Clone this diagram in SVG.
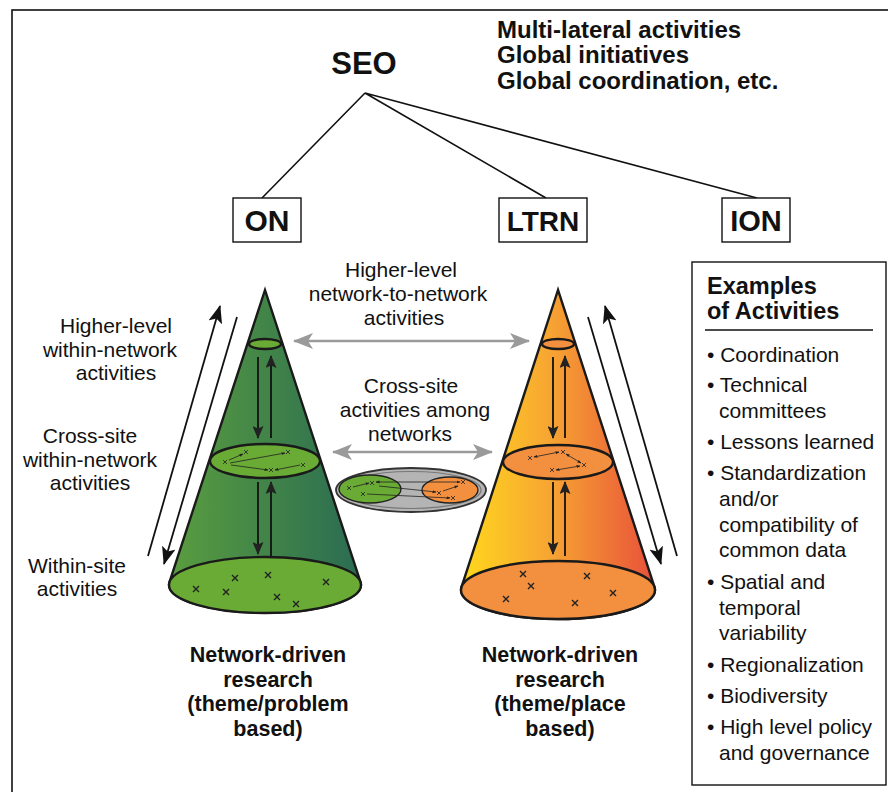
<svg xmlns="http://www.w3.org/2000/svg" width="888" height="792" viewBox="0 0 888 792">
<style>
.t{font-family:"Liberation Sans",Arial,sans-serif;font-size:21px;fill:#111}
.b{font-family:"Liberation Sans",Arial,sans-serif;font-weight:bold;fill:#111}
.c{text-anchor:middle}
.ln{stroke:#111;stroke-width:1.6;fill:none}
.ol{stroke:#1a1a1a;stroke-width:2.4}
.ga{stroke:#9a9a9a;stroke-width:2.5;fill:none}
.ar{stroke:#111;stroke-width:1.8;fill:none}
.xm{stroke:#222;stroke-width:1.4;fill:none}
.sm{stroke:#222;stroke-width:0.8;fill:none}
</style>
<defs>
<linearGradient id="gG" gradientUnits="userSpaceOnUse" x1="169" y1="0" x2="361" y2="0">
<stop offset="0" stop-color="#5a9d3f"/><stop offset="1" stop-color="#2a6c52"/>
</linearGradient>
<linearGradient id="gO" gradientUnits="userSpaceOnUse" x1="461" y1="0" x2="655" y2="0">
<stop offset="0" stop-color="#ffd81c"/><stop offset="0.45" stop-color="#f7a632"/><stop offset="1" stop-color="#e8503a"/>
</linearGradient>
<marker id="ah" markerUnits="userSpaceOnUse" markerWidth="18" markerHeight="14" refX="17" refY="7" orient="auto">
<path d="M0,0 L18,7 L0,14 L4,7 Z" fill="#111"/>
</marker>
<marker id="ahs" markerUnits="userSpaceOnUse" markerWidth="13" markerHeight="11" refX="12" refY="5.5" orient="auto">
<path d="M0,0 L13,5.5 L0,11 L2.5,5.5 Z" fill="#222"/>
</marker>
<marker id="ag" markerUnits="userSpaceOnUse" markerWidth="20" markerHeight="16" refX="19" refY="8" orient="auto-start-reverse">
<path d="M0,0 L20,8 L0,16 L5,8 Z" fill="#9a9a9a"/>
</marker>
<marker id="at" markerUnits="userSpaceOnUse" markerWidth="4" markerHeight="4" refX="3.5" refY="2" orient="auto-start-reverse">
<path d="M0,0.5 L4,2 L0,3.5 Z" fill="#222"/>
</marker>
</defs>
<rect x="12" y="10" width="900" height="800" fill="#fff" stroke="#111" stroke-width="1.6"/>

<g id="connectors">
<path class="ln" d="M365,93 L262,198 M365,93 L546,198 M365,93 L757,198"/>
<path class="ga" d="M294,341 L529,341" marker-start="url(#ag)" marker-end="url(#ag)"/>
<path class="ga" d="M333,452 L492,452" marker-start="url(#ag)" marker-end="url(#ag)"/>
<path class="ar" d="M148,556 L220,306" marker-end="url(#ah)"/>
<path class="ar" d="M237,317 L164,564" marker-end="url(#ah)"/>
<path class="ar" d="M677,556 L605,306" marker-end="url(#ah)"/>
<path class="ar" d="M588,317 L661,564" marker-end="url(#ah)"/>
</g>

<g id="seo"><text class="b c" x="364" y="74" font-size="31">SEO</text></g>
<g id="global">
<text class="b" x="497" y="38" font-size="24">Multi-lateral activities</text>
<text class="b" x="497" y="63" font-size="24">Global initiatives</text>
<text class="b" x="497" y="89" font-size="24">Global coordination, etc.</text>
</g>
<g id="on"><rect x="233" y="198" width="68" height="44" fill="#fff" stroke="#111" stroke-width="1.4"/><text class="b c" x="267" y="231" font-size="30">ON</text></g>
<g id="ltrn"><rect x="499" y="198" width="88" height="44" fill="#fff" stroke="#111" stroke-width="1.4"/><text class="b c" x="543" y="231" font-size="28">LTRN</text></g>
<g id="ion"><rect x="722" y="198" width="68" height="44" fill="#fff" stroke="#111" stroke-width="1.4"/><text class="b c" x="756" y="231" font-size="29">ION</text></g>

<g id="cone-green">
<path class="ol" d="M265,290 L169.4,582.3 A96,28 0 1 0 360.6,582.3 Z" fill="url(#gG)"/>
<ellipse class="ol" cx="265" cy="585" rx="96" ry="28" fill="#6aab35"/>
<ellipse class="ol" cx="265" cy="344" rx="16" ry="5" fill="#6aab35"/>
<ellipse class="ol" cx="265" cy="461" rx="55" ry="17" fill="#6aab35"/>
<path class="ar" d="M258,357 L258,438" marker-end="url(#ahs)"/>
<path class="ar" d="M271,438 L271,356" marker-end="url(#ahs)"/>
<path class="ar" d="M258,482 L258,554" marker-end="url(#ahs)"/>
<path class="ar" d="M271,556 L271,482" marker-end="url(#ahs)"/>
<path class="xm" d="M193,586 l6,6 m0,-6 l-6,6 M232,575 l6,6 m0,-6 l-6,6 M265,572 l6,6 m0,-6 l-6,6 M223,589 l6,6 m0,-6 l-6,6 M274,594 l6,6 m0,-6 l-6,6 M293,601 l6,6 m0,-6 l-6,6 M323,579 l6,6 m0,-6 l-6,6"/>
<path class="sm" d="M223,460 l4,4 m0,-4 l-4,4 M244,450 l4,4 m0,-4 l-4,4 M286,450 l4,4 m0,-4 l-4,4 M269,468 l4,4 m0,-4 l-4,4 M301,463 l4,4 m0,-4 l-4,4"/>
<path class="sm" d="M229,460 L243,454" marker-end="url(#at)"/>
<path class="sm" d="M230,463 L285,453" marker-end="url(#at)"/>
<path class="sm" d="M231,465 L268,470" marker-end="url(#at)"/>
<path class="sm" d="M300,465 L275,470" marker-end="url(#at)"/>
</g>

<g id="cone-orange">
<path class="ol" d="M558,290 L461.5,587.2 A97,29 0 1 0 654.5,587.2 Z" fill="url(#gO)"/>
<ellipse class="ol" cx="558" cy="590" rx="97" ry="29" fill="#f2903f"/>
<ellipse class="ol" cx="558" cy="344" rx="16" ry="5" fill="#f2903f"/>
<ellipse class="ol" cx="558" cy="462" rx="55" ry="17" fill="#f2903f"/>
<path class="ar" d="M553,357 L553,438" marker-end="url(#ahs)"/>
<path class="ar" d="M565,438 L565,356" marker-end="url(#ahs)"/>
<path class="ar" d="M553,482 L553,554" marker-end="url(#ahs)"/>
<path class="ar" d="M565,556 L565,482" marker-end="url(#ahs)"/>
<path class="xm" d="M520,571 l6,6 m0,-6 l-6,6 M528,583 l6,6 m0,-6 l-6,6 M503,596 l6,6 m0,-6 l-6,6 M584,573 l6,6 m0,-6 l-6,6 M572,600 l6,6 m0,-6 l-6,6 M610,590 l6,6 m0,-6 l-6,6"/>
<path class="sm" d="M528,456 l4,4 m0,-4 l-4,4 M561,450 l4,4 m0,-4 l-4,4 M582,463 l4,4 m0,-4 l-4,4 M550,468 l4,4 m0,-4 l-4,4"/>
<path class="sm" d="M534,457 L559,452" marker-start="url(#at)" marker-end="url(#at)"/>
<path class="sm" d="M566,454 L581,463" marker-start="url(#at)" marker-end="url(#at)"/>
<path class="sm" d="M556,470 L580,466" marker-start="url(#at)" marker-end="url(#at)"/>
</g>

<g id="cross-network">
<ellipse cx="411" cy="490" rx="75" ry="22" fill="#b4b4b4" stroke="#333" stroke-width="1.8"/>
<ellipse cx="411" cy="490" rx="70" ry="18.5" fill="none" stroke="#777" stroke-width="1.2"/>
<ellipse cx="370" cy="489" rx="31" ry="14" fill="#6aab35" stroke="#222" stroke-width="1.4"/>
<ellipse cx="450" cy="490" rx="28" ry="13" fill="#f2903f" stroke="#222" stroke-width="1.4"/>
<path class="sm" d="M347,486 l4,4 m0,-4 l-4,4 M370,481 l4,4 m0,-4 l-4,4 M361,492 l4,4 m0,-4 l-4,4 M461,480 l4,4 m0,-4 l-4,4 M437,491 l4,4 m0,-4 l-4,4 M451,496 l4,4 m0,-4 l-4,4"/>
<path class="sm" d="M353,487 L369,483" marker-end="url(#at)"/>
<path class="sm" d="M376,482 L460,482" marker-start="url(#at)" marker-end="url(#at)"/>
<path class="sm" d="M379,486 L436,492" marker-end="url(#at)"/>
<path class="sm" d="M367,494 L450,498" marker-end="url(#at)"/>
<path class="sm" d="M443,491 L458,486" marker-end="url(#at)"/>
</g>

<g id="labels-left">
<text class="t c" x="116" y="333">Higher-level</text>
<text class="t c" x="110" y="357">within-network</text>
<text class="t c" x="116" y="380">activities</text>
<text class="t c" x="90" y="443">Cross-site</text>
<text class="t c" x="90" y="467">within-network</text>
<text class="t c" x="90" y="490">activities</text>
<text class="t c" x="77" y="573">Within-site</text>
<text class="t c" x="77" y="596">activities</text>
</g>
<g id="labels-center">
<text class="t c" x="401" y="277">Higher-level</text>
<text class="t c" x="398" y="301">network-to-network</text>
<text class="t c" x="404" y="325">activities</text>
<text class="t c" x="411" y="393">Cross-site</text>
<text class="t c" x="415" y="417">activities among</text>
<text class="t c" x="410" y="441">networks</text>
</g>
<g id="labels-bottom">
<text class="b c" x="268" y="662" font-size="21.5">Network-driven</text>
<text class="b c" x="268" y="687" font-size="21.5">research</text>
<text class="b c" x="268" y="711" font-size="21.5">(theme/problem</text>
<text class="b c" x="268" y="736" font-size="21.5">based)</text>
<text class="b c" x="560" y="662" font-size="21.5">Network-driven</text>
<text class="b c" x="560" y="687" font-size="21.5">research</text>
<text class="b c" x="560" y="711" font-size="21.5">(theme/place</text>
<text class="b c" x="560" y="736" font-size="21.5">based)</text>
</g>

<g id="examples">
<rect x="692" y="262" width="194" height="523" fill="#fff" stroke="#111" stroke-width="1.4"/>
<text class="b" x="707" y="294" font-size="23.5">Examples</text>
<text class="b" x="707" y="319" font-size="23.5">of Activities</text>
<line x1="705" y1="330" x2="873" y2="330" stroke="#111" stroke-width="1.3"/>
<text class="t" x="707" y="362" font-size="20">• Coordination</text>
<text class="t" x="707" y="392" font-size="20">• Technical</text>
<text class="t" x="719" y="418" font-size="20">committees</text>
<text class="t" x="707" y="449" font-size="20">• Lessons learned</text>
<text class="t" x="707" y="480" font-size="20">• Standardization</text>
<text class="t" x="719" y="506" font-size="20">and/or</text>
<text class="t" x="719" y="532" font-size="20">compatibility of</text>
<text class="t" x="719" y="557" font-size="20">common data</text>
<text class="t" x="707" y="589" font-size="20">• Spatial and</text>
<text class="t" x="719" y="615" font-size="20">temporal</text>
<text class="t" x="719" y="640" font-size="20">variability</text>
<text class="t" x="707" y="672" font-size="20">• Regionalization</text>
<text class="t" x="707" y="703" font-size="20">• Biodiversity</text>
<text class="t" x="707" y="734" font-size="20">• High level policy</text>
<text class="t" x="719" y="760" font-size="20">and governance</text>
</g>
</svg>
